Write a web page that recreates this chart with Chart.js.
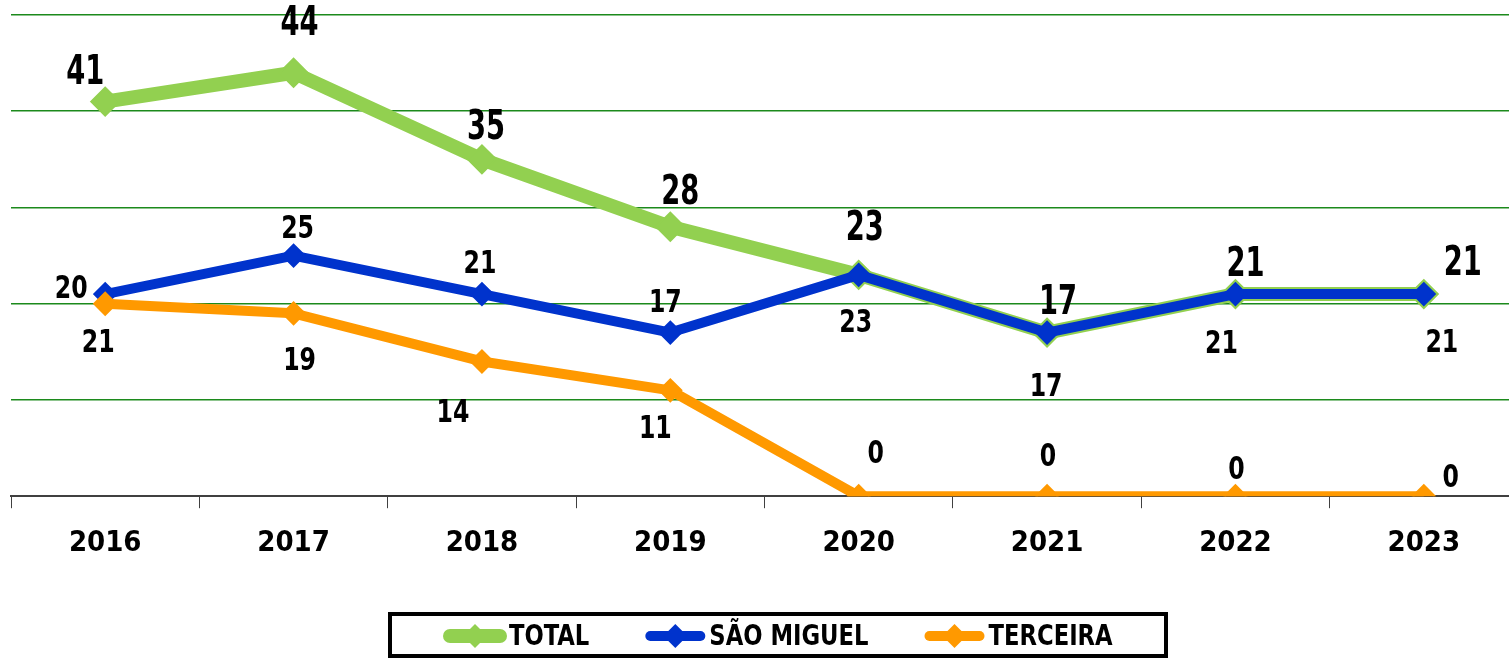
<!DOCTYPE html>
<html>
<head>
<meta charset="utf-8">
<script src="https://cdn.jsdelivr.net/npm/chart.js@4"></script>
<style>
  html, body { margin: 0; padding: 0; background: #fff; }
  #wrap { width: 1509px; height: 659px; overflow: hidden; position: relative; }
  #box { width: 1530px; height: 659px; position: absolute; left: 0; top: 0; }
</style>
</head>
<body>
<div id="wrap"><div id="box"><canvas id="c"></canvas></div></div>
<script>
const years = ['2016', '2017', '2018', '2019', '2020', '2021', '2022', '2023'];
const seriesNames = ['TOTAL', 'SÃO MIGUEL', 'TERCEIRA'];
const total = [41, 44, 35, 28, 23, 17, 21, 21];
const saoMiguel = [21, 25, 21, 17, 23, 17, 21, 21];
const terceira = [20, 19, 14, 11, 0, 0, 0, 0];
const yTicks = [0, 10, 20, 30, 40, 50];

const FAMILY = '"DejaVu Sans Condensed", "DejaVu Sans", sans-serif';

// label offsets (pixels) relative to each point — styling only
const labelOffsets = [
  [[-20,-28],[6,-48],[4,-31],[10,-33],[6,-45],[11,-29],[10,-28],[39,-29]],
  [[-7,50],[4,-26],[-2,-29],[-5,-29],[-3,49],[-1,55],[-14,51],[18,50]],
  [[-34,-14],[6,48],[-29,52],[-15,39],[17,-42],[1,-39],[1,-26],[27,-18]]
];
const labelFonts = ['bold 40px ' + FAMILY, 'bold 32px ' + FAMILY, 'bold 32px ' + FAMILY];
const labelScaleX = [0.76, 0.82, 0.82];
const colors = ['#92D050', '#0033CC', '#FF9900'];
const lineWidths = [14, 10, 10];

const dataLabels = {
  id: 'dataLabels',
  afterDatasetsDraw(chart) {
    const ctx = chart.ctx;
    chart.data.datasets.forEach((ds, di) => {
      const meta = chart.getDatasetMeta(di);
      meta.data.forEach((pt, i) => {
        const off = labelOffsets[di][i];
        ctx.save();
        ctx.translate(pt.x + off[0], pt.y + off[1]);
        ctx.scale(labelScaleX[di], 1);
        ctx.font = labelFonts[di];
        ctx.textAlign = 'center';
        ctx.textBaseline = 'middle';
        ctx.fillStyle = '#000';
        ctx.fillText(String(ds.data[i]), 0, 0);
        ctx.restore();
      });
    });
  }
};

const boxLegend = {
  id: 'boxLegend',
  afterDraw(chart) {
    const ctx = chart.ctx;
    ctx.save();
    ctx.lineWidth = 4;
    ctx.strokeStyle = '#000';
    ctx.strokeRect(390, 614, 776, 42);
    ctx.font = 'bold 29px ' + FAMILY;
    ctx.textBaseline = 'middle';
    ctx.textAlign = 'left';
    const sx = 0.87;
    const cy = 636;
    let x = 445;
    seriesNames.forEach((name, i) => {
      ctx.strokeStyle = colors[i];
      ctx.lineWidth = lineWidths[i];
      ctx.lineCap = 'round';
      ctx.beginPath();
      ctx.moveTo(x + 5, cy);
      ctx.lineTo(x + 55, cy);
      ctx.stroke();
      ctx.fillStyle = colors[i];
      const r = 12;
      ctx.beginPath();
      ctx.moveTo(x + 30 - r, cy);
      ctx.lineTo(x + 30, cy - r);
      ctx.lineTo(x + 30 + r, cy);
      ctx.lineTo(x + 30, cy + r);
      ctx.closePath();
      ctx.fill();
      ctx.save();
      ctx.translate(x + 64, cy + 1);
      ctx.scale(sx, 1);
      ctx.fillStyle = '#000';
      ctx.fillText(name, 0, 0);
      ctx.restore();
      const w = ctx.measureText(name).width * sx;
      x = x + 64 + w + 56;
    });
    ctx.restore();
  }
};

const mk = (label, data, i, order, radius) => ({
  label, data,
  borderColor: colors[i],
  backgroundColor: colors[i],
  borderWidth: lineWidths[i],
  pointStyle: 'rectRot',
  pointRadius: radius,
  pointBorderWidth: 2,
  pointBorderColor: colors[i],
  pointBackgroundColor: colors[i],
  pointHoverRadius: radius,
  order: order,
  tension: 0,
  borderJoinStyle: 'round'
});

new Chart(document.getElementById('c'), {
  type: 'line',
  data: {
    labels: years,
    datasets: [
      mk(seriesNames[0], total, 0, 2, 14),
      mk(seriesNames[1], saoMiguel, 1, 1, 11),
      mk(seriesNames[2], terceira, 2, 0, 11)
    ]
  },
  options: {
    responsive: true,
    maintainAspectRatio: false,
    animation: false,
    layout: { autoPadding: false, padding: { left: 11, right: 12, top: 15, bottom: 80 } },
    plugins: { legend: { display: false }, tooltip: { enabled: false } },
    scales: {
      x: {
        offset: true,
        grid: { offset: true, drawOnChartArea: false, drawTicks: true, tickLength: 12, color: '#404040', lineWidth: 1 },
        border: { display: true, color: '#404040', width: 2 },
        ticks: { color: '#000', padding: 18, font: { family: FAMILY, size: 29, weight: 'bold' } }
      },
      y: {
        min: yTicks[0], max: yTicks[yTicks.length - 1],
        afterBuildTicks(axis) { axis.ticks = yTicks.map(v => ({ value: v })); },
        ticks: { display: false },
        grid: { color: '#1C8A1C', lineWidth: 1.5, drawTicks: false },
        border: { display: false }
      }
    }
  },
  plugins: [dataLabels, boxLegend]
});
</script>
</body>
</html>
